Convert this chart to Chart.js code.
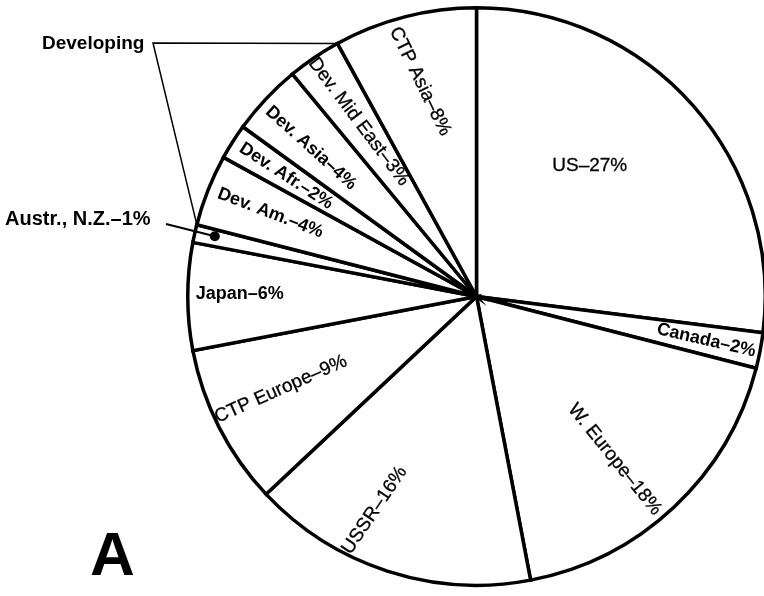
<!DOCTYPE html>
<html>
<head>
<meta charset="utf-8">
<script src="https://cdn.jsdelivr.net/npm/chart.js@4/dist/chart.umd.min.js"></script>
<style>
  html, body { margin: 0; padding: 0; background: #fff; overflow: hidden; }
  #wrap { width: 764px; height: 596px; overflow: hidden; }
</style>
</head>
<body>
<div id="wrap"><canvas id="pie" width="770" height="596"></canvas></div>
<script>
// shares by region, clockwise from twelve o'clock
const regions = ['US', 'Canada', 'W. Europe', 'USSR', 'CTP Europe', 'Japan',
  'Austr., N.Z.', 'Dev. Am.', 'Dev. Afr.', 'Dev. Asia', 'Dev. Mid East', 'CTP Asia'];
const shares = [27, 2, 18, 16, 9, 6, 1, 4, 2, 4, 3, 8];

// where each label sits inside its slice: t = across the slice, r = fraction of radius
const labelSpots = [
  { t: 0.42, r: 0.60, rot: 0, bold: false },
  { t: 0.50, r: 0.81, rot: 13, bold: true },
  { t: 0.545, r: 0.74, rot: 51, bold: false },
  { t: 0.63, r: 0.82, rot: -56, bold: false },
  { t: 0.55, r: 0.75, rot: -24, bold: false },
  { t: 0.53, r: 0.82, rot: 0, bold: true },
  null,
  { t: 0.53, r: 0.77, rot: 21, bold: true },
  { t: 0.49, r: 0.78, rot: 33, bold: true },
  { t: 0.41, r: 0.77, rot: 42, bold: true },
  { t: 0.52, r: 0.73, rot: 53, bold: false },
  { t: 0.49, r: 0.77, rot: 64, bold: false }
];

const FONT = "'Liberation Sans', Arial, Helvetica, sans-serif";

function spot(arc, t, rf) {
  const p = arc.getProps(['x', 'y', 'startAngle', 'endAngle', 'outerRadius'], true);
  const a = p.startAngle + t * (p.endAngle - p.startAngle);
  return { x: p.x + Math.cos(a) * rf * p.outerRadius, y: p.y + Math.sin(a) * rf * p.outerRadius };
}

const sliceLabels = {
  id: 'sliceLabels',
  afterDraw(chart) {
    const ctx = chart.ctx;
    const arcs = chart.getDatasetMeta(0).data;
    ctx.save();
    ctx.fillStyle = '#000';
    ctx.strokeStyle = '#000';
    ctx.textAlign = 'center';
    ctx.textBaseline = 'middle';

    arcs.forEach((arc, i) => {
      const s = labelSpots[i];
      if (!s) return;
      const pt = spot(arc, s.t, s.r);
      const txt = regions[i] + '\u2013' + shares[i] + '%';
      ctx.save();
      ctx.translate(pt.x, pt.y);
      ctx.rotate(s.rot * Math.PI / 180);
      ctx.font = (s.bold ? 'bold 18px ' : '19px ') + FONT;
      ctx.fillText(txt, 0, 0);
      if (!s.bold) {
        // plain labels: a touch heavier than the regular face
        ctx.lineWidth = 0.3;
        ctx.strokeText(txt, 0, 0);
      }
      ctx.restore();
    });

    // Austr., N.Z. is too thin to hold its label: leader line and dot
    const aIdx = regions.indexOf('Austr., N.Z.');
    const dot = spot(arcs[aIdx], 0.6, 0.93);
    ctx.font = 'bold 20px ' + FONT;
    ctx.textAlign = 'left';
    ctx.textBaseline = 'alphabetic';
    ctx.fillText(regions[aIdx] + '\u2013' + shares[aIdx] + '%', 5, 225);
    ctx.lineWidth = 2;
    ctx.beginPath();
    ctx.moveTo(166, 224);
    ctx.lineTo(dot.x, dot.y);
    ctx.stroke();
    ctx.beginPath();
    ctx.arc(dot.x, dot.y, 5, 0, Math.PI * 2);
    ctx.fill();

    // bracket tying together the developing regions
    const first = arcs[regions.indexOf('Dev. Am.')].getProps(['x', 'y', 'startAngle', 'outerRadius'], true);
    const last = arcs[regions.indexOf('Dev. Mid East')].getProps(['x', 'y', 'endAngle', 'outerRadius'], true);
    const pA = { x: first.x + Math.cos(first.startAngle) * first.outerRadius, y: first.y + Math.sin(first.startAngle) * first.outerRadius };
    const pB = { x: last.x + Math.cos(last.endAngle) * last.outerRadius, y: last.y + Math.sin(last.endAngle) * last.outerRadius };
    ctx.font = 'bold 19px ' + FONT;
    ctx.fillText('Developing', 42, 49);
    ctx.lineWidth = 1.5;
    ctx.beginPath();
    ctx.moveTo(pB.x, pB.y);
    ctx.lineTo(153, 43);
    ctx.lineTo(pA.x, pA.y);
    ctx.stroke();

    // panel letter
    ctx.font = 'bold 62px ' + FONT;
    ctx.fillText('A', 90, 575);
    ctx.restore();
  }
};

new Chart(document.getElementById('pie'), {
  type: 'pie',
  data: {
    labels: regions,
    datasets: [{
      data: shares,
      backgroundColor: '#fff',
      borderColor: '#000',
      borderWidth: 3.5,
      borderJoinStyle: 'miter',
      hoverOffset: 0
    }]
  },
  options: {
    responsive: false,
    animation: false,
    layout: { padding: { left: 186, right: 3, top: 6, bottom: 9 } },
    plugins: {
      legend: { display: false },
      tooltip: { enabled: false }
    }
  },
  plugins: [sliceLabels]
});
</script>
</body>
</html>
